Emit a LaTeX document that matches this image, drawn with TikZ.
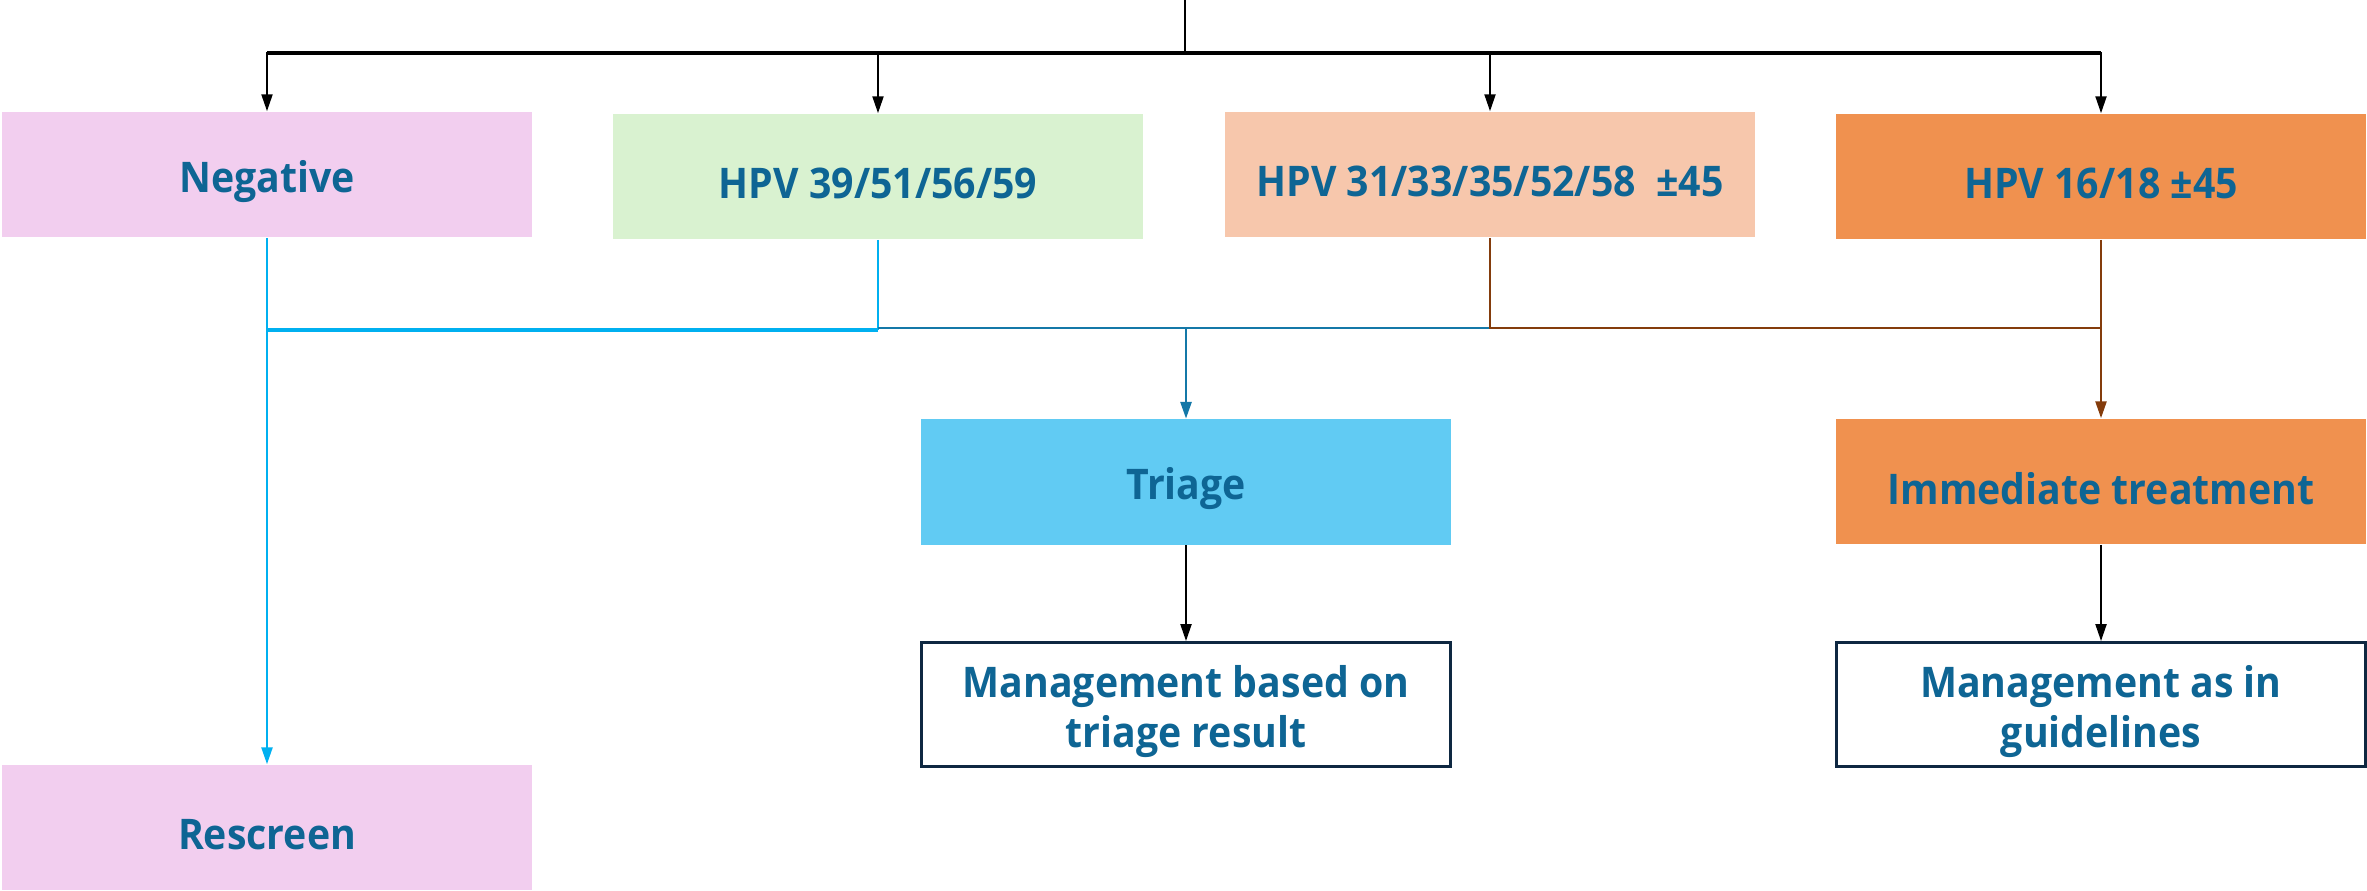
\documentclass[tikz,border=0pt]{standalone}
\usepackage{fontspec}
\setmainfont{Open Sans}[FakeStretch=0.93]
\usetikzlibrary{arrows.meta}
\definecolor{txt}{HTML}{0E6594}
\definecolor{cpink}{HTML}{F2CEEF}
\definecolor{cgreen}{HTML}{D9F2D0}
\definecolor{cpeach}{HTML}{F7C7AC}
\definecolor{corange}{HTML}{F0914F}
\definecolor{csky}{HTML}{61CBF3}
\definecolor{lcyan}{HTML}{00B0F0}
\definecolor{lblue}{HTML}{1478A8}
\definecolor{lbrown}{HTML}{843C0C}
\definecolor{navy}{HTML}{0E2841}
\tikzset{
  box/.style={rectangle, inner sep=0pt, minimum width=5.3cm, minimum height=1.25cm,
    align=center, text=txt, font=\fontsize{12}{14}\selectfont\bfseries},
  lbl/.style={yshift=-0.07cm},
  outlinebox/.style={box, fill=white, draw=navy, line width=0.8pt, minimum width=5.28cm, minimum height=1.24cm},
  tip/.style={-{Triangle[length=1.7mm, width=1.1mm]}},
  blk/.style={black, line width=0.6pt},
  cy/.style={lcyan, line width=0.7pt},
  bl/.style={lblue, line width=0.8pt},
  br/.style={lbrown, line width=0.7pt}
}
\begin{document}
\begin{tikzpicture}[x=0.01cm, y=-0.01cm]
\useasboundingbox (0,0) rectangle (2367,890);
\node[box, fill=cpink] (neg) at (267,174.5) {};
\node[box, fill=cgreen] (h39) at (878,176.5) {};
\node[box, fill=cpeach] (h31) at (1490,174.5) {};
\node[box, fill=corange] (h16) at (2101,176.5) {};
\node[box, fill=csky] (tri) at (1186,482) {};
\node[box, fill=corange] (imm) at (2101,481.5) {};
\node[box, fill=cpink] (res) at (267,827.5) {};
\node[outlinebox] (m1) at (1186,704.5) {};
\node[outlinebox] (m2) at (2101,704.5) {};
\node[box, lbl] (tneg) at (neg.center) {Negative};
\node[box, lbl] (th39) at (h39.center) {HPV 39/51/56/59};
\node[box, lbl] (th31) at (h31.center) {HPV 31/33/35/52/58 \ ±45};
\node[box, lbl] (th16) at (h16.center) {HPV 16/18 ±45};
\node[box, lbl] (ttri) at (tri.center) {Triage};
\node[box, lbl] (timm) at (imm.center) {Immediate treatment};
\node[box, lbl] (tres) at (res.center) {Rescreen};
\node[box, lbl] (tm1) at (m1.center) {Management based on\\triage result};
\node[box, lbl] (tm2) at (m2.center) {Management as in\\guidelines};
\coordinate (top) at (1185,0);
\coordinate (bar) at (1185,53);
\coordinate (cj) at (267,330);
\coordinate (c2) at (878,330);
\coordinate (b1) at (878,328);
\coordinate (b2) at (1490,328);
\draw[blk] (top) -- (bar);
\draw[blk, line width=0.9pt] (neg.north |- bar) -- (h16.north |- bar);
\draw[blk, tip] (bar) -| (neg.north);
\draw[blk, tip] (bar) -| (h39.north);
\draw[blk, tip] (bar) -| (h31.north);
\draw[blk, tip] (bar) -| (h16.north);
\draw[cy, tip] (neg.south) -- (res.north);
\draw[cy] (h39.south) -- (c2);
\draw[cy, line width=1pt] (c2) -- (cj);
\draw[bl] (b1) -- (b2);
\draw[bl, tip] (b1 -| tri.north) -- (tri.north);
\draw[br] (h31.south) |- (h16.south |- b2);
\draw[br, tip] (h16.south) -- (imm.north);
\draw[blk, tip] (tri.south) -- (m1.north);
\draw[blk, tip] (imm.south) -- (m2.north);
\end{tikzpicture}
\end{document}
